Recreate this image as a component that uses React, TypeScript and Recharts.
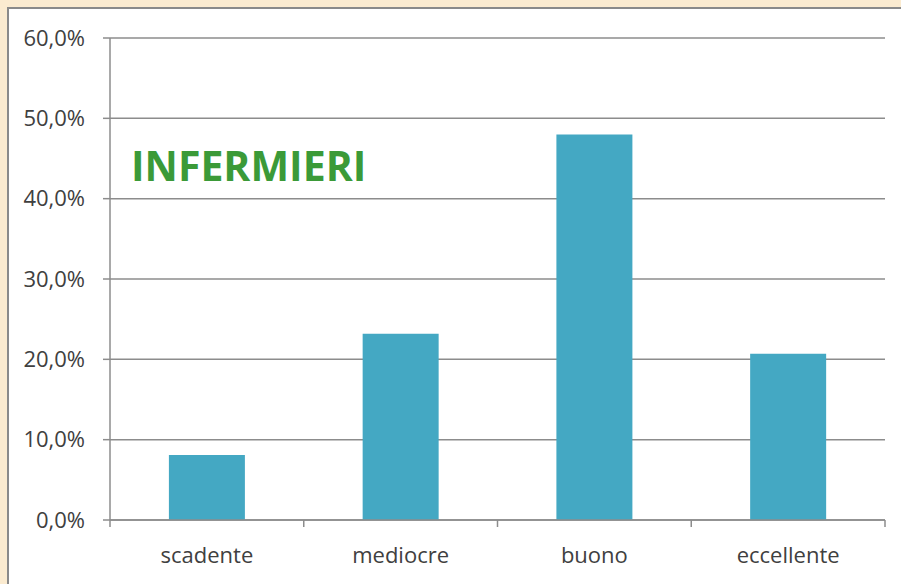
import React from "react";
import { BarChart, Bar, XAxis, YAxis, CartesianGrid } from "recharts";

const categories = ["scadente", "mediocre", "buono", "eccellente"];
const values = [8.1, 23.2, 48.0, 20.7];
const yTicks = [0, 10, 20, 30, 40, 50, 60];
const title = "INFERMIERI";

const data = categories.map((c, i) => ({ name: c, value: values[i] }));

const fmt = (v: number) => v.toFixed(1).replace(".", ",") + "%";

const FONT = "'Open Sans', 'DejaVu Sans', sans-serif";
const AXIS = "#8c8c8c";

const CatTick = (props: any) => {
  const { x, y, payload, index, visibleTicksCount } = props;
  const half = payload && payload.offset ? payload.offset : 0;
  const isLast = index === (visibleTicksCount ?? categories.length) - 1;
  return (
    <g>
      <line x1={x - half} x2={x - half} y1={y} y2={y + 7} stroke={AXIS} strokeWidth={1.5} />
      {isLast && (
        <line x1={x + half} x2={x + half} y1={y} y2={y + 7} stroke={AXIS} strokeWidth={1.5} />
      )}
      <text
        x={x}
        y={y + 43}
        textAnchor="middle"
        fill="#404040"
        fontSize={22}
        fontFamily={FONT}
      >
        {payload.value}
      </text>
    </g>
  );
};

export default function App() {
  return (
    <div
      style={{
        position: "absolute",
        left: 0,
        top: 0,
        width: 901,
        height: 584,
        background: "#FBEBD0",
        overflow: "hidden",
      }}
    >
      <div
        style={{
          position: "absolute",
          left: 7,
          top: 7,
          width: 894,
          height: 577,
          background: "#FFFFFF",
          borderLeft: "2px solid #8a8a8a",
          borderTop: "2px solid #8a8a8a",
          boxSizing: "border-box",
        }}
      />
      <div style={{ position: "absolute", left: 0, top: 0 }}>
        <BarChart
          width={901}
          height={584}
          data={data}
          margin={{ top: 38, right: 16, bottom: 34, left: 0 }}
          barCategoryGap="30.4%"
        >
          <CartesianGrid
            horizontal={true}
            vertical={false}
            stroke={AXIS}
            strokeWidth={1.5}
          />
          <XAxis
            dataKey="name"
            type="category"
            axisLine={{ stroke: AXIS, strokeWidth: 1.5 }}
            tickLine={false}
            tickSize={0}
            tickMargin={0}
            height={30}
            tick={CatTick}
            interval={0}
          />
          <YAxis
            width={110}
            domain={[0, 60]}
            ticks={yTicks}
            tickFormatter={fmt}
            tickSize={7}
            tickMargin={18}
            axisLine={{ stroke: AXIS, strokeWidth: 1.5 }}
            tickLine={{ stroke: AXIS, strokeWidth: 1.5 }}
            tick={{ fill: "#404040", fontSize: 22, fontFamily: FONT }}
            interval={0}
          />
          <Bar dataKey="value" fill="#44A8C3" isAnimationActive={false} />
        </BarChart>
      </div>
      <div
        style={{
          position: "absolute",
          left: 131,
          top: 145,
          fontFamily: FONT,
          fontWeight: 700,
          fontSize: 41,
          lineHeight: "41px",
          color: "#3B9A38",
          whiteSpace: "nowrap",
        }}
      >
        {title}
      </div>
    </div>
  );
}
